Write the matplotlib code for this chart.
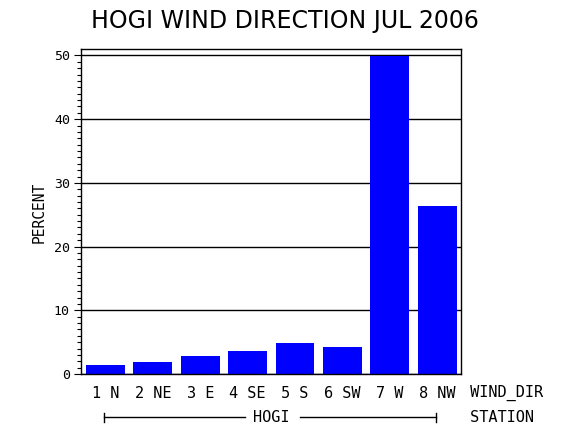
import matplotlib
matplotlib.use("Agg")
import matplotlib.pyplot as plt
from matplotlib.ticker import MultipleLocator

categories = ["1 N", "2 NE", "3 E", "4 SE", "5 S", "6 SW", "7 W", "8 NW"]
percent = [1.4, 1.9, 2.8, 3.6, 4.9, 4.2, 49.9, 26.4]
yticks = [0, 10, 20, 30, 40, 50]
title = "HOGI WIND DIRECTION JUL 2006"
station = "HOGI"

fig = plt.figure(figsize=(5.7, 4.3), dpi=100)
ax = fig.add_axes([81/570, 1-374/430, 380/570, (374-49.3)/430])

x = list(range(len(categories)))
ax.bar(x, percent, width=0.82, color="#0000FF", zorder=2)
ax.set_xlim(-0.515, 7.5)
ax.set_ylim(0, 50.97)
ax.set_yticks(yticks)
ax.yaxis.set_minor_locator(MultipleLocator(1))
ax.grid(axis="y", color="black", linewidth=1.0, zorder=1)
ax.set_axisbelow(True)
ax.set_xticks([])
mono = "DejaVu Sans Mono"
ax.tick_params(axis="y", which="major", direction="out", length=5, width=0.8, pad=3,
               labelsize=9.5, labelfontfamily=mono)
ax.tick_params(axis="y", which="minor", direction="out", length=3, width=0.8)
for s in ax.spines.values():
    s.set_linewidth(1.0)

for xi, lab in zip(x, categories):
    ax.text(xi, -3.0, lab, ha="center", va="center", family=mono, fontsize=11)
ax.text(1.0, -3.0, " WIND_DIR", transform=ax.get_yaxis_transform(), ha="left", va="center",
        family=mono, fontsize=11, clip_on=False)
ax.text(1.0, -6.8, " STATION", transform=ax.get_yaxis_transform(), ha="left", va="center",
        family=mono, fontsize=11, clip_on=False)

# station bracket
yb = -6.8
ax.text(3.5, yb, station, ha="center", va="center", family=mono, fontsize=11)
ax.plot([-0.02, 2.95], [yb, yb], color="black", lw=1, clip_on=False)
ax.plot([4.1, 6.98], [yb, yb], color="black", lw=1, clip_on=False)
ax.plot([-0.02, -0.02], [yb-0.7, yb+0.7], color="black", lw=1, clip_on=False)
ax.plot([6.98, 6.98], [yb-0.7, yb+0.7], color="black", lw=1, clip_on=False)

fig.text(39/570, 1-212/430, "PERCENT", rotation=90, ha="center", va="center",
         family=mono, fontsize=10.5)
fig.text(285/570, 1-21/430, title, ha="center", va="center", family="DejaVu Sans", fontsize=17)

fig.savefig("out.png", dpi=100)
